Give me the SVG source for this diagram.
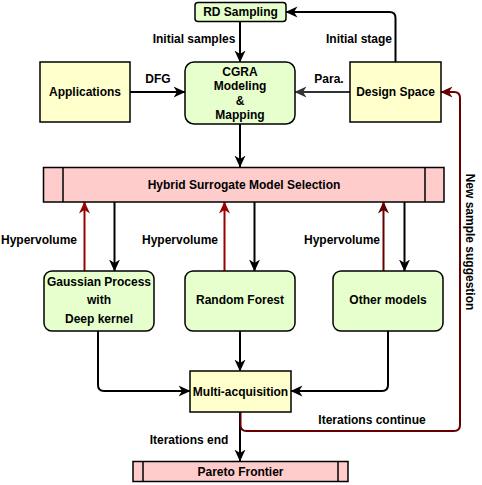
<svg xmlns="http://www.w3.org/2000/svg" width="482" height="485" viewBox="0 0 482 485">
<style>
text{font-family:"Liberation Sans",Arial,sans-serif;font-size:12px;font-weight:bold;fill:#000;text-anchor:middle;dominant-baseline:central}
.y{fill:#FFFFCC;stroke:#000;stroke-width:1.5}
.g{fill:#E6FFCC;stroke:#000;stroke-width:1.5}
.p{fill:#FFCCCC;stroke:#000;stroke-width:1.5}
.c{fill:none;stroke-width:2;stroke-linejoin:round}
.k{stroke:#000}
.r{stroke:#990000}
.d{stroke:#660000}
.s{stroke:#333}
</style>
<defs>
<marker id="ak" viewBox="0 0 12 12" refX="11.5" refY="6" markerWidth="12" markerHeight="12" markerUnits="userSpaceOnUse" orient="auto"><path d="M0,0.5 L12,6 L0,11.5 L3.5,6 Z" fill="#000"/></marker>
<marker id="ar" viewBox="0 0 12 12" refX="11.5" refY="6" markerWidth="12" markerHeight="12" markerUnits="userSpaceOnUse" orient="auto"><path d="M0,0.5 L12,6 L0,11.5 L3.5,6 Z" fill="#990000"/></marker>
<marker id="ad" viewBox="0 0 12 12" refX="11.5" refY="6" markerWidth="12" markerHeight="12" markerUnits="userSpaceOnUse" orient="auto"><path d="M0,0.5 L12,6 L0,11.5 L3.5,6 Z" fill="#660000"/></marker>
<marker id="as" viewBox="0 0 12 12" refX="11.5" refY="6" markerWidth="12" markerHeight="12" markerUnits="userSpaceOnUse" orient="auto"><path d="M0,0.5 L12,6 L0,11.5 L3.5,6 Z" fill="#333"/></marker>
</defs>
<g id="connectors">
<path class="c k" d="M240,21.5 L240,62" marker-end="url(#ak)"/>
<path class="c k" d="M395.5,62 L395.5,18 Q395.5,12 389.5,12 L286,12" marker-end="url(#ak)"/>
<path class="c k" d="M130,92 L185,92" marker-end="url(#ak)"/>
<path class="c s" d="M350,92 L295,92" marker-end="url(#as)"/>
<path class="c k" d="M240,124 L240,167" marker-end="url(#ak)"/>
<path class="c r" d="M84.5,271 L84.5,202" marker-end="url(#ar)"/>
<path class="c k" d="M114.5,202 L114.5,271" marker-end="url(#ak)"/>
<path class="c r" d="M224.5,271 L224.5,202" marker-end="url(#ar)"/>
<path class="c k" d="M254.5,202 L254.5,271" marker-end="url(#ak)"/>
<path class="c d" d="M383.5,271 L383.5,202" marker-end="url(#ad)"/>
<path class="c k" d="M404.5,202 L404.5,271" marker-end="url(#ak)"/>
<path class="c k" d="M98,331 L98,385 Q98,391 104,391 L190,391" marker-end="url(#ak)"/>
<path class="c k" d="M240,331 L240,371" marker-end="url(#ak)"/>
<path class="c k" d="M388,331 L388,385 Q388,391 382,391 L291,391" marker-end="url(#ak)"/>
<path class="c k" d="M240,412 L240,461" marker-end="url(#ak)"/>
<path class="c d" d="M240.5,412 L240.5,425 Q240.5,431 246.5,431 L454,431 Q460,431 460,425 L460,98 Q460,92 454,92 L441,92" marker-end="url(#ad)"/>
<text x="194" y="39">Initial samples</text>
<text x="359" y="39">Initial stage</text>
<text x="158" y="79">DFG</text>
<text x="329" y="79">Para.</text>
<text x="39" y="240">Hypervolume</text>
<text x="180" y="240">Hypervolume</text>
<text x="342" y="240">Hypervolume</text>
<text x="372" y="420">Iterations continue</text>
<text x="189" y="440">Iterations end</text>
<text x="0" y="0" transform="translate(470,242) rotate(90)">New sample suggestion</text>
</g>
<g id="rd-sampling"><rect class="g" x="195" y="2.5" width="91" height="19" rx="3"/><text x="240.5" y="12">RD Sampling</text></g>
<g id="applications"><rect class="y" x="40" y="62" width="90" height="60"/><text x="85" y="92">Applications</text></g>
<g id="cgra"><rect class="g" x="185" y="62" width="110" height="62" rx="9"/><text x="240" y="72">CGRA</text><text x="240" y="86">Modeling</text><text x="240" y="101">&amp;</text><text x="240" y="115">Mapping</text></g>
<g id="design-space"><rect class="y" x="350" y="62" width="91" height="60"/><text x="395.5" y="92">Design Space</text></g>
<g id="hybrid"><rect class="p" x="43.5" y="167.5" width="400.5" height="34.5"/><path d="M63,167.5 V202 M425,167.5 V202" stroke="#000" stroke-width="1.5"/><text x="244" y="184.5">Hybrid Surrogate Model Selection</text></g>
<g id="gp"><rect class="g" x="44" y="271" width="110" height="60" rx="8"/><text x="99" y="282">Gaussian Process</text><text x="99" y="300">with</text><text x="99" y="319">Deep kernel</text></g>
<g id="rf"><rect class="g" x="185" y="271" width="110" height="60" rx="8"/><text x="240" y="300">Random Forest</text></g>
<g id="other"><rect class="g" x="333" y="271" width="110" height="60" rx="8"/><text x="388" y="300">Other models</text></g>
<g id="multi"><rect class="y" x="190" y="371" width="101" height="41"/><text x="240.5" y="391.5">Multi-acquisition</text></g>
<g id="pareto"><rect class="p" x="133" y="461.5" width="215" height="20"/><path d="M143,461.5 V481.5 M338,461.5 V481.5" stroke="#000" stroke-width="1.5"/><text x="240.5" y="471.5">Pareto Frontier</text></g>
</svg>
